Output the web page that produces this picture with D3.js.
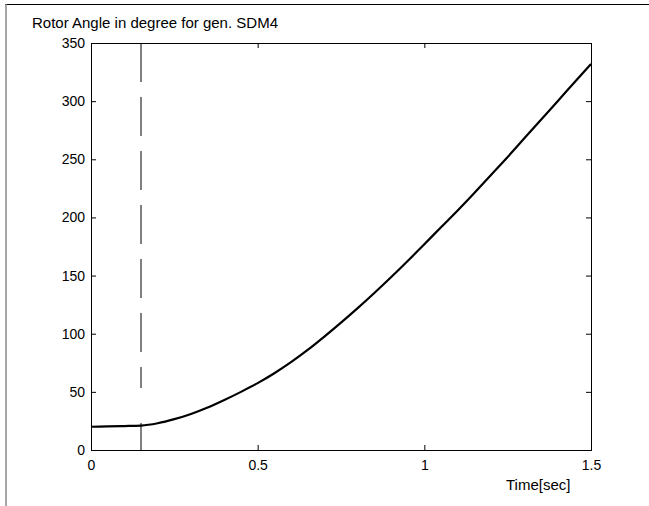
<!DOCTYPE html>
<html><head><meta charset="utf-8">
<script src="https://cdn.jsdelivr.net/npm/d3@7"></script>
<style>body{margin:0;background:#fff}svg{display:block}text{font-family:"Liberation Sans",Arial,sans-serif;fill:#000}</style>
</head><body>
<svg id="c" width="649" height="506"></svg>
<script>
const title = "Rotor Angle in degree for gen. SDM4";
const xLabel = "Time[sec]";
const xTicks = [0, 0.5, 1, 1.5];
const yTicks = [0, 50, 100, 150, 200, 250, 300, 350];
const faultTime = 0.15;
const time =  [0, 0.05, 0.1, 0.15, 0.2, 0.25, 0.3, 0.35, 0.4, 0.45, 0.5, 0.55, 0.6, 0.65, 0.7, 0.75, 0.8, 0.85, 0.9, 0.95, 1.0, 1.05, 1.1, 1.15, 1.2, 1.25, 1.3, 1.35, 1.4, 1.45, 1.5];
const angle = [20, 20.3, 20.6, 21, 23, 26.5, 31, 36.5, 43, 50, 57.5, 66, 75.5, 86, 97.5, 109.5, 122, 135, 148.5, 162.5, 177, 191.5, 206, 221, 236.5, 252, 268, 284, 300, 316, 332];

const svg = d3.select("#c");
const L = 91, R = 591, T = 43, B = 450;
const x = d3.scaleLinear().domain([0, 1.5]).range([L, R]);
const y = d3.scaleLinear().domain([0, 350]).range([B, T]);

// outer frame
svg.append("line").attr("x1", 5).attr("x2", 649).attr("y1", 4.5).attr("y2", 4.5).attr("stroke", "#000").attr("stroke-width", 1.2);
svg.append("line").attr("x1", 6).attr("x2", 6).attr("y1", 4).attr("y2", 506).attr("stroke", "#888").attr("stroke-width", 1.5);

// title
svg.append("text").attr("x", 32).attr("y", 28).attr("font-size", 15).text(title);

const g = svg.append("g");
const tickFmt = d => d3.format("")(d);
const xb = g.append("g").attr("transform", `translate(0,${B})`).call(d3.axisBottom(x).tickValues(xTicks).tickSize(-5).tickPadding(10).tickFormat(tickFmt));
const xt = g.append("g").attr("transform", `translate(0,${T})`).call(d3.axisTop(x).tickValues(xTicks).tickSize(-5).tickFormat(""));
const yl = g.append("g").attr("transform", `translate(${L},0)`).call(d3.axisLeft(y).tickValues(yTicks).tickSize(-5).tickPadding(6).tickFormat(tickFmt));
const yr = g.append("g").attr("transform", `translate(${R},0)`).call(d3.axisRight(y).tickValues(yTicks).tickSize(-5).tickFormat(""));
[xb, xt, yl, yr].forEach(a => {
  a.select(".domain").attr("stroke", "#000").attr("stroke-width", 1);
  a.selectAll(".tick line").attr("stroke", "#000");
  a.selectAll("text").attr("font-size", 14).attr("font-family", '"Liberation Sans",Arial,sans-serif').attr("fill", "#000");
});

// x label
svg.append("text").attr("x", 506).attr("y", 490).attr("font-size", 15).text(xLabel);

// dashed fault line
svg.append("line").attr("x1", x(faultTime)).attr("x2", x(faultTime)).attr("y1", y(350)).attr("y2", y(0))
  .attr("stroke", "#000").attr("stroke-width", 1).attr("stroke-dasharray", "39,15,39,15,39,15,39,15,39,15,39,15,21,35,30");

// curve
const line = d3.line().x((d, i) => x(time[i])).y(d => y(d)).curve(d3.curveMonotoneX);
svg.append("path").datum(angle).attr("d", line).attr("fill", "none").attr("stroke", "#000").attr("stroke-width", 2.2);
</script>
</body></html>
